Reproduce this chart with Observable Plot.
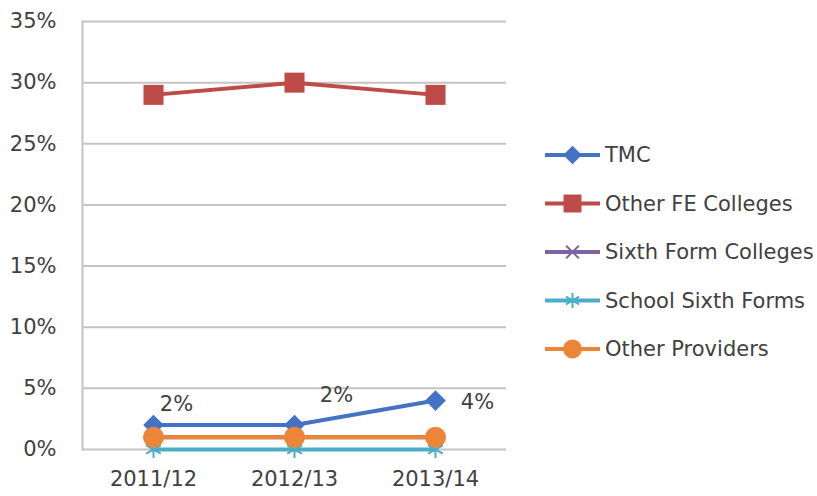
<!DOCTYPE html>
<html><head><meta charset="utf-8">
<script src="https://cdn.jsdelivr.net/npm/d3@7"></script>
<script src="https://cdn.jsdelivr.net/npm/@observablehq/plot@0.6"></script>
<style>
body{margin:0;background:#fff;}
#wrap{position:relative;width:817px;height:496px;overflow:hidden;}
#legend{position:absolute;left:0;top:0;}
</style></head><body><div id="wrap"></div>
<script>
const years = ["2011/12", "2012/13", "2013/14"];
const seriesNames = ["TMC", "Other FE Colleges", "Sixth Form Colleges", "School Sixth Forms", "Other Providers"];
const tmc = [2, 2, 4];
const otherFE = [29, 30, 29];
const sixthFormColleges = [1, 1, 1];
const schoolSixthForms = [0, 0, 0];
const otherProviders = [1, 1, 1];
const yTicks = [0, 5, 10, 15, 20, 25, 30, 35];
const tmcLabels = ["2%", "2%", "4%"];

const colors = ["#4472C4", "#BE4B48", "#8064A2", "#4BACC6", "#EC8537"];
const symbols = ["diamond2", "square", "times", "asterisk", "circle"];
const symR = [9.3, 11.3, 6.5, 8, 10.5];
const filled = [true, true, false, false, true];
const FONT = "'DejaVu Sans', sans-serif";
const TEXT = "#404040";

const allValues = [tmc, otherFE, sixthFormColleges, schoolSixthForms, otherProviders];
const rows = [];
allValues.forEach((vals, i) => years.forEach((yr, j) => rows.push({series: seriesNames[i], year: yr, value: vals[j], idx: j})));

const marks = [
  Plot.ruleY(yTicks, {stroke: "#c4c4c4", strokeWidth: 2}),
  Plot.frame({anchor: "left", stroke: "#c4c4c4", strokeWidth: 2}),
  Plot.axisY({ticks: yTicks, tickSize: 0, tickPadding: 26, tickFormat: d => d + "%", fontSize: 21, fill: TEXT, label: null}),
  Plot.axisX({tickSize: 0, tickPadding: 22, fontSize: 21, fill: TEXT, label: null})
];
seriesNames.forEach((s, i) => {
  const d = rows.filter(r => r.series === s);
  marks.push(Plot.line(d, {x: "year", y: "value", stroke: colors[i], strokeWidth: 4}));
  const dotOpts = {x: "year", y: "value", symbol: symbols[i], r: symR[i]};
  if (filled[i]) { dotOpts.fill = colors[i]; dotOpts.stroke = "none"; }
  else { dotOpts.stroke = colors[i]; dotOpts.strokeWidth = 2; dotOpts.fill = "none"; }
  marks.push(Plot.dot(d, dotOpts));
});
const tmcRows = rows.filter(r => r.series === "TMC").map((r, j) => ({...r, label: tmcLabels[j]}));
const labelOffsets = [[23, -21], [42, -30], [42, 2]];
tmcRows.forEach((r, j) => {
  marks.push(Plot.text([r], {x: "year", y: "value", text: "label", dx: labelOffsets[j][0], dy: labelOffsets[j][1], fontSize: 21, fill: TEXT}));
});

const chart = Plot.plot({
  width: 817,
  height: 496,
  marginLeft: 82,
  marginRight: 311,
  marginTop: 21,
  marginBottom: 47,
  style: {fontFamily: FONT, background: "#fff", color: TEXT},
  x: {type: "point", domain: years, padding: 0.5},
  y: {domain: [0, 35]},
  marks
});
const wrap = document.getElementById("wrap");
wrap.appendChild(chart);

// Legend
const legend = d3.select(wrap).append("svg").attr("id", "legend").attr("width", 817).attr("height", 496);
const legY0 = 155, legStep = 48.5;
seriesNames.forEach((s, i) => {
  const y = legY0 + i * legStep;
  const g = legend.append("g");
  g.append("line").attr("x1", 545).attr("x2", 600).attr("y1", y).attr("y2", y).attr("stroke", colors[i]).attr("stroke-width", 4);
  const sym = {diamond2: d3.symbolDiamond2, square: d3.symbolSquare, times: d3.symbolTimes, asterisk: d3.symbolAsterisk, circle: d3.symbolCircle}[symbols[i]];
  const p = g.append("path").attr("transform", `translate(572.5,${y})`).attr("d", d3.symbol(sym, Math.PI * symR[i] * symR[i] * 0.8)());
  if (filled[i]) p.attr("fill", colors[i]); else p.attr("fill", "none").attr("stroke", colors[i]).attr("stroke-width", 2);
  g.append("text").attr("x", 605).attr("y", y).attr("dy", "0.35em").attr("font-family", FONT).attr("font-size", 21).attr("fill", TEXT).text(s);
});
</script>
</body></html>
